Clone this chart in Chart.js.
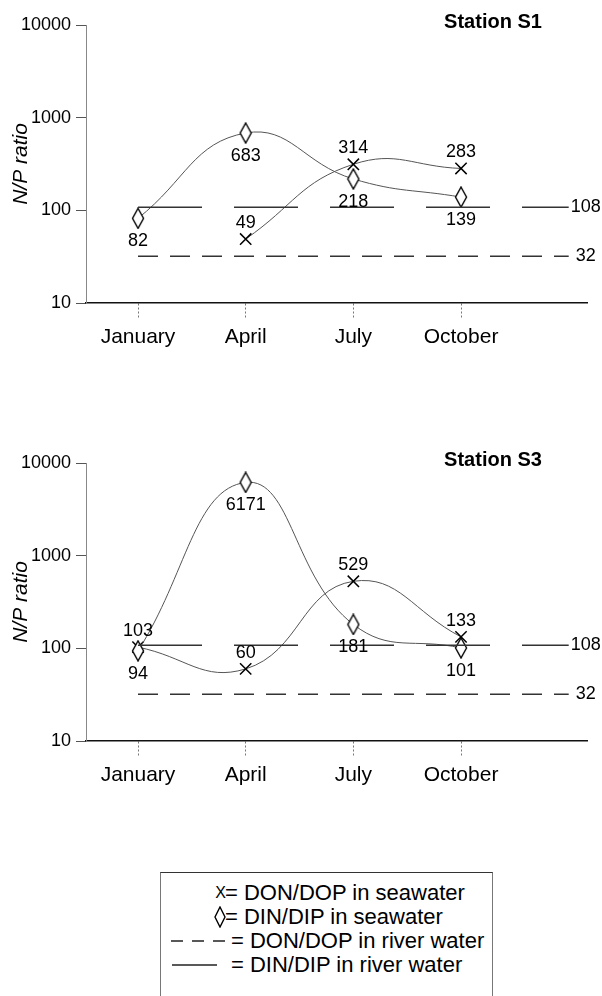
<!DOCTYPE html>
<html>
<head>
<meta charset="utf-8">
<script src="https://cdn.jsdelivr.net/npm/chart.js@4/dist/chart.umd.min.js"></script>
<style>
  body { margin: 0; background: #fff; width: 602px; height: 996px; overflow: hidden; position: relative;
         font-family: "Liberation Sans", Arial, sans-serif; color: #000; }
  .panel { position: absolute; left: 0; width: 602px; height: 360px; }
  #legend { position: absolute; left: 160px; top: 872px; width: 333px; height: 150px;
            border: 1px solid #777; border-top-color: #333; box-sizing: border-box; }
  #legend .row { position: absolute; left: 0; height: 24px; line-height: 24px; font-size: 22px; white-space: nowrap; }
  #legend .sym { position: absolute; left: 0; width: 65px; height: 24px; text-align: right; }
  #legend .txt { position: absolute; }
</style>
</head>
<body>
<div class="panel" style="top:0"><canvas id="chartS1" width="602" height="360"></canvas></div>
<div class="panel" style="top:438px"><canvas id="chartS3" width="602" height="360"></canvas></div>

<div id="legend">
  <div class="row" style="top:8px"><span class="sym" style="font-size:16px">X</span><span class="txt" style="left:64px">= DON/DOP in seawater</span></div>
  <div class="row" style="top:32px"><span class="sym"><svg width="12" height="22" style="position:absolute;right:0;top:1px"><path d="M6 1 L11 11 L6 21 L1 11 Z" fill="#fff" stroke="#000" stroke-width="1.4"/></svg></span><span class="txt" style="left:64px">= DIN/DIP in seawater</span></div>
  <div class="row" style="top:56px"><span class="sym"><svg width="60" height="24" style="position:absolute;left:10px;top:0"><line x1="0" y1="12" x2="54" y2="12" stroke="#222" stroke-width="1.4" stroke-dasharray="12 9"/></svg></span><span class="txt" style="left:70px">= DON/DOP in river water</span></div>
  <div class="row" style="top:80px"><span class="sym"><svg width="60" height="24" style="position:absolute;left:11px;top:0"><line x1="0" y1="12" x2="45" y2="12" stroke="#222" stroke-width="1.4"/></svg></span><span class="txt" style="left:70px">= DIN/DIP in river water</span></div>
</div>

<script>
// sampling months (category labels)
const months = ['January', 'April', 'July', 'October'];
// log axis tick labels
const yTicks = [10, 100, 1000, 10000];

// Station S1
const s1DonDop = [null, 49, 314, 283];
const s1DinDip = [82, 683, 218, 139];
// Station S3
const s3DonDop = [103, 60, 529, 133];
const s3DinDip = [94, 6171, 181, 101];

// river water reference ratios
const riverDonDop = 32;
const riverDinDip = 108;
// reference lines run from January to one step past October
const refSpan = [0, 4];

const FONT = '"Liberation Sans", Arial, sans-serif';

// tall narrow diamond used as point style
function makeDiamond() {
  const c = document.createElement('canvas');
  c.width = 14;
  c.height = 22;
  const g = c.getContext('2d');
  g.beginPath();
  g.moveTo(7, 1);
  g.lineTo(12.5, 11);
  g.lineTo(7, 21);
  g.lineTo(1.5, 11);
  g.closePath();
  g.fillStyle = '#fff';
  g.fill();
  g.strokeStyle = '#000';
  g.lineWidth = 1.4;
  g.stroke();
  return c;
}
const diamond = makeDiamond();

const labelPlugin = {
  id: 'npLabels',
  afterDatasetsDraw(chart, args, opts) {
    const ctx = chart.ctx;
    ctx.save();
    ctx.fillStyle = '#000';
    ctx.textAlign = 'center';
    ctx.textBaseline = 'middle';
    ctx.font = '18px ' + FONT;
    chart.data.datasets.forEach((ds, di) => {
      const meta = chart.getDatasetMeta(di);
      if (ds.valueLabels) {
        meta.data.forEach((pt, i) => {
          const v = ds.data[i].y;
          if (v == null) return;
          const dy = ds.valueLabels === 'above' ? -16 : 23;
          ctx.fillText(String(v), pt.x, pt.y + dy);
        });
      }
      if (ds.endLabel) {
        const last = meta.data[meta.data.length - 1];
        ctx.fillText(ds.endLabel, last.x + 17, last.y);
      }
    });
    // station name
    ctx.font = 'bold 20px ' + FONT;
    ctx.fillText(opts.title, chart.chartArea.right - 94, chart.chartArea.top - 3);
    ctx.restore();
  }
};

function refLine(value, dash, label) {
  return {
    data: refSpan.map(x => ({ x: x, y: value })),
    borderColor: '#333',
    borderWidth: 1.5,
    borderDash: dash,
    pointRadius: 0,
    endLabel: label
  };
}

function makeChart(id, title, donDop, dinDip) {
  new Chart(document.getElementById(id), {
    type: 'line',
    data: {
      datasets: [
        refLine(riverDinDip, [64, 32], String(riverDinDip)),
        refLine(riverDonDop, [20, 12], String(riverDonDop)),
        {
          data: dinDip.map((v, i) => ({ x: i, y: v })),
          borderColor: '#555',
          borderWidth: 1,
          tension: 0.45,
          pointStyle: diamond,
          pointRadius: 10,
          valueLabels: 'below'
        },
        {
          data: donDop.map((v, i) => ({ x: i, y: v })),
          borderColor: '#555',
          borderWidth: 1,
          tension: 0.45,
          pointStyle: 'crossRot',
          pointRadius: 8,
          pointBorderColor: '#000',
          pointBorderWidth: 1.5,
          valueLabels: 'above'
        }
      ]
    },
    options: {
      responsive: false,
      animation: false,
      layout: { padding: { top: 25, right: 15, left: 0, bottom: 0 } },
      plugins: {
        legend: { display: false },
        tooltip: { enabled: false },
        npLabels: { title: title }
      },
      scales: {
        x: {
          type: 'linear',
          min: -0.483,
          max: 4.17,
          afterBuildTicks: s => { s.ticks = months.map((m, i) => ({ value: i })); },
          afterFit: s => { s.height = 57; },
          ticks: {
            callback: v => months[v],
            font: { size: 21, family: FONT },
            color: '#000',
            padding: 7,
            maxRotation: 0,
            autoSkip: false
          },
          grid: { drawOnChartArea: false, tickLength: 15, color: '#777', tickBorderDash: [2, 2], tickWidth: 1 },
          border: { color: '#111', width: 1.5 }
        },
        y: {
          type: 'logarithmic',
          min: 10,
          max: 10000,
          afterBuildTicks: s => { s.ticks = yTicks.map(v => ({ value: v })); },
          afterFit: s => { s.width = 86; },
          ticks: {
            callback: v => String(v),
            font: { size: 18, family: FONT },
            color: '#000',
            padding: 5
          },
          grid: { drawOnChartArea: false, tickLength: 10, color: '#555' },
          border: { color: '#888', width: 1, dash: [5, 2, 1, 2] },
          title: {
            display: true,
            text: 'N/P ratio',
            font: { size: 21, style: 'italic', family: FONT },
            color: '#000',
            padding: { top: 9, bottom: 0 }
          }
        }
      }
    },
    plugins: [labelPlugin]
  });
}

makeChart('chartS1', 'Station S1', s1DonDop, s1DinDip);
makeChart('chartS3', 'Station S3', s3DonDop, s3DinDip);
</script>
</body>
</html>
